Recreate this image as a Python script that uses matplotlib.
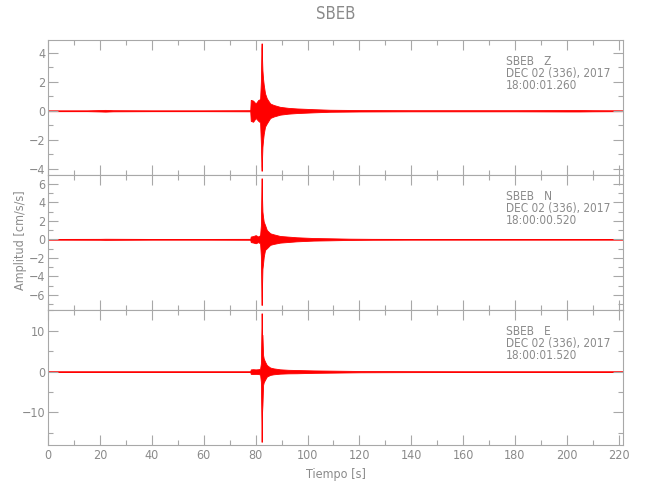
import matplotlib
matplotlib.use('Agg')
import matplotlib.pyplot as plt
from matplotlib.ticker import MultipleLocator
from matplotlib import font_manager as fm

# pick a narrow face if one is installed, else DejaVu Sans
narrow = None
for f in fm.fontManager.ttflist:
    nm = (f.name + ' ' + f.fname).lower()
    if ('narrow' in nm or 'condensed' in nm) and f.style == 'normal' and \
            f.weight in (400, 'normal', 'regular') and 'bold' not in nm and 'oblique' not in nm:
        narrow = f
        break
if narrow is not None:
    fm.fontManager.addfont(narrow.fname)
    plt.rcParams['font.family'] = [narrow.name, 'DejaVu Sans']
    plt.rcParams['font.stretch'] = narrow.stretch
else:
    plt.rcParams['font.family'] = ['DejaVu Sans']

T_END = 221.8
title = "SBEB"
components = ["Z", "N", "E"]
start_times = ["18:00:01.260", "18:00:00.520", "18:00:01.520"]
date_label = "DEC 02 (336), 2017"
xlabel = "Tiempo [s]"
ylabel = "Amplitud [cm/s/s]"

# Envelope of each trace (time, upper, lower)
z_t = [0, 15, 20, 22, 25, 40, 60, 77.9, 78.1, 79, 80, 81, 81.7, 82.0, 82.2, 82.3, 82.45, 82.6,
       82.85, 83.1, 83.6, 84.3, 85.6, 86.9, 89.4, 92.6, 95.8, 102.3, 108.7, 120.3, 140, 160,
       180, 200, 205, 210, 221.8]
z_hi = [0.03, 0.03, 0.05, 0.06, 0.04, 0.03, 0.03, 0.04, 0.75, 0.7, 0.5, 0.75, 0.8, 2.0, 4.3,
        4.65, 3.6, 2.8, 2.2, 1.8, 1.2, 0.85, 0.5, 0.4, 0.27, 0.2, 0.16, 0.11, 0.07, 0.05, 0.04,
        0.04, 0.04, 0.05, 0.05, 0.04, 0.03]
z_lo = [-0.03, -0.03, -0.05, -0.06, -0.04, -0.03, -0.03, -0.04, -0.7, -0.76, -0.5, -0.7,
        -0.8, -2.2, -3.8, -4.14, -3.3, -2.5, -2.0, -1.6, -1.1, -0.87, -0.5, -0.4, -0.27, -0.2,
        -0.16, -0.11, -0.07, -0.05, -0.04, -0.04, -0.04, -0.05, -0.05, -0.04, -0.03]

n_t = [0, 20, 22, 40, 60, 77.9, 78.1, 79, 80, 81, 81.7, 82.0, 82.2, 82.3, 82.45, 82.6, 82.85,
       83.1, 83.6, 84.3, 85.6, 86.9, 89.4, 92.6, 95.8, 102.3, 108.7, 116, 125, 140, 160, 180,
       200, 221.8]
n_hi = [0.04, 0.05, 0.06, 0.04, 0.04, 0.05, 0.3, 0.35, 0.45, 0.3, 0.45, 1.5, 5.5, 6.6, 4.5,
        3.0, 2.4, 1.9, 1.55, 1.0, 0.65, 0.54, 0.36, 0.29, 0.22, 0.14, 0.11, 0.07, 0.05, 0.04,
        0.04, 0.04, 0.04, 0.04]
n_lo = [-0.04, -0.05, -0.06, -0.04, -0.04, -0.05, -0.3, -0.35, -0.43, -0.3, -0.45, -1.8,
        -6.0, -7.1, -5.0, -3.2, -2.6, -1.9, -1.15, -0.97, -0.6, -0.5, -0.36, -0.29, -0.22,
        -0.14, -0.11, -0.07, -0.05, -0.04, -0.04, -0.04, -0.04, -0.04]

e_t = [0, 20, 40, 60, 77.9, 78.1, 79, 80, 81, 81.7, 82.0, 82.2, 82.3, 82.45, 82.6, 82.85,
       83.1, 83.6, 84.3, 85.6, 86.9, 89.4, 92.6, 95.8, 102.3, 108.7, 120.3, 140, 160, 180,
       200, 221.8]
e_hi = [0.1, 0.1, 0.1, 0.1, 0.1, 0.55, 0.6, 0.55, 0.6, 0.7, 2.0, 10, 14.3, 9, 9, 4.1, 3.2,
        2.45, 1.6, 1.0, 0.8, 0.57, 0.45, 0.4, 0.3, 0.25, 0.16, 0.12, 0.1, 0.1, 0.1, 0.1]
e_lo = [-0.1, -0.1, -0.1, -0.1, -0.1, -0.55, -0.6, -0.55, -0.6, -0.7, -2.5, -12, -17.2, -10,
        -8.2, -3.3, -2.6, -2.0, -1.2, -0.8, -0.65, -0.5, -0.42, -0.4, -0.3, -0.25, -0.16,
        -0.12, -0.1, -0.1, -0.1, -0.1]

traces = [(z_t, z_hi, z_lo), (n_t, n_hi, n_lo), (e_t, e_hi, e_lo)]
ylims = [(-4.43, 4.88), (-7.64, 6.95), (-17.97, 15.1)]
majors = [2, 2, 10]
minors = [1, 1, 5]

GREY = '#8a8a8a'
FRAME = '#a8a8a8'
W, H = 650, 500
fig = plt.figure(figsize=(6.5, 5), dpi=100)
left_px, right_px = 48.3, 623.3
tops = [40, 175, 310]
ph = 135
fs_ann = 8.5 if narrow is not None else 7.5
fs_tick = 9 if narrow is not None else 8.5

axes = []
for i, (tr, yl) in enumerate(zip(traces, ylims)):
    ax = fig.add_axes([left_px / W, 1 - (tops[i] + ph) / H, (right_px - left_px) / W, ph / H])
    t, hi, lo = tr
    ax.fill_between(t, lo, hi, color='red', lw=0.6, edgecolor='red')
    ax.set_xlim(0, T_END)
    ax.set_ylim(*yl)
    ax.xaxis.set_major_locator(MultipleLocator(20))
    ax.xaxis.set_minor_locator(MultipleLocator(10))
    ax.yaxis.set_major_locator(MultipleLocator(majors[i]))
    ax.yaxis.set_minor_locator(MultipleLocator(minors[i]))
    ax.tick_params(which='both', direction='in', top=True, right=True, colors=FRAME,
                   labelcolor=GREY, labelsize=fs_tick, width=0.8)
    ax.tick_params(which='major', length=7)
    ax.tick_params(which='minor', length=3.5)
    ax.tick_params(axis='y', pad=2)
    ax.tick_params(axis='x', pad=3)
    for s in ax.spines.values():
        s.set_color(FRAME)
        s.set_linewidth(0.8)
    if i < 2:
        ax.tick_params(labelbottom=False)
    ys = [0.815, 0.725, 0.635]
    ax.text(0.796, ys[0], f"SBEB   {components[i]}", transform=ax.transAxes, color=GREY,
            fontsize=fs_ann, va='baseline')
    ax.text(0.796, ys[1], date_label, transform=ax.transAxes, color=GREY, fontsize=fs_ann,
            va='baseline')
    ax.text(0.796, ys[2], start_times[i], transform=ax.transAxes, color=GREY, fontsize=fs_ann,
            va='baseline')
    axes.append(ax)

axes[0].set_title(title, color=GREY, fontsize=12, pad=15)
axes[2].set_xlabel(xlabel, color=GREY, fontsize=9, labelpad=4)
fig.text(21 / W, 1 - 240 / H, ylabel, rotation=90, color=GREY, fontsize=9,
         ha='center', va='center')

fig.savefig('out.png', dpi=100)
